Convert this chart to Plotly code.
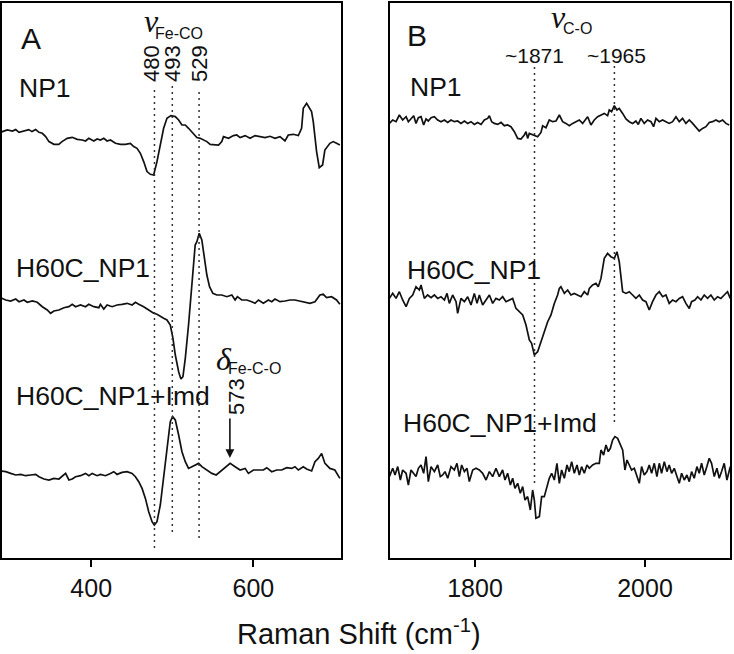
import plotly.graph_objects as go

# ---------------- DATA ----------------
# Panel A (low-frequency region), Raman shift in cm-1, intensities relative to each trace baseline
a_np1_x = [288, 296.6, 302.8, 306.9, 311, 317, 323, 327, 331.5, 335.6, 339.7, 343.8, 347.9, 354, 360, 364, 370.4, 376.6, 382.7, 388.9, 393, 397, 403.2, 407.3, 411.4, 415.5, 419.6, 423.7, 429.9, 436, 442.2, 448.3, 452.4, 456.5, 460.6, 464.7, 468.8, 472.9, 477, 481.1, 485.2, 489.3, 493.4, 498.3, 503.7, 507.8, 511.9, 516, 520, 526.2, 530.3, 534.4, 538.5, 542.6, 546.7, 552.9, 557, 561, 563.1, 569.3, 575.4, 579.5, 583.6, 589.8, 595.9, 602, 608.2, 614.4, 620.5, 626.6, 632.8, 638.9, 643, 649.2, 655.4, 659.4, 661.5, 665.6, 671.7, 673.8, 677.9, 681.2, 685.3, 688.1, 694.3, 698.4, 702.5, 706.6]
a_np1_y = [6, 8.3, 7.3, 8.7, 6, 7.3, 8.7, 6.7, 8.7, 6, 5, 1.7, -3.3, -6, -6, -3.3, 0, 1, -1, -1.7, -2.7, 0, -2.7, -0.7, -1.7, 0, -2.7, -1.7, -5, -6, -6, -5, -8.3, -10, -15, -23.3, -33.3, -36, -36.7, -23.3, -6.7, 10, 20, 22.7, 21.7, 18.3, 13.3, 13.3, 10, 5, 0.7, 0, -1.7, -3.3, -6, -6, -6.7, -3.3, 1.7, 0, 2.7, 3.3, 0.7, 2.7, 0, 2.7, 1.7, 0.7, 2, 0, 1.7, -2.7, 3.3, 4, 2.7, 10, 30, 35, 26.7, 16.7, -13.3, -29.3, -26.7, -11.7, -5, -3.3, -5, -6.7]

a_h60c_x = [288, 294.6, 300.7, 306.9, 311, 317.1, 321.2, 327.4, 333.5, 339.7, 345.8, 349.9, 354, 360.2, 366.3, 372.5, 376.6, 380.7, 386.8, 393, 397, 403.2, 409.4, 411.4, 415.5, 419.6, 425.8, 431.9, 438, 444.2, 450.4, 454.5, 458.6, 464.7, 470.9, 477, 481.1, 485.2, 489.3, 493.4, 497.5, 500.8, 503.7, 507.8, 510.6, 513.1, 516, 520, 524.2, 528.2, 530.3, 533.2, 536.4, 539.3, 542.6, 545.9, 550, 554.9, 561, 567.2, 573.4, 577.4, 580.3, 585.6, 591.8, 597.9, 602, 606.2, 612.3, 618.5, 622.6, 626.6, 632.8, 639, 645.1, 651.2, 657.4, 663.6, 669.7, 675.9, 682, 686.1, 690.2, 696.4, 702.5, 706.6]
a_h60c_y = [2.3, 0, -1, 1, -1.7, 0, -2.3, -1, -2.3, -6.7, -10, -13.3, -11, -10, -7.7, -6.7, -4.3, -6.7, -5, -6.7, -4.3, -6.7, -7.7, -4.3, -9, -5, -6.7, -5, -4.3, -3.3, -5, -2.3, -4.3, -6.7, -10, -13.3, -14.3, -16.7, -18.3, -20, -25, -38.3, -55, -71.7, -79, -76.7, -58.3, -25, 15, 55, 58.3, 66.7, 60, 45, 25, 13.3, 6.7, 5, 5, 3.3, 5, 0, 3.3, 0, 0, -1.7, -3.3, 0, -3.3, 0, -1.7, 1, -1.7, -1, 0, 0, -1, -1.7, -3.3, -1.7, 5, 5.7, 2.3, 3.3, 0, -4.3]

a_imd_x = [288, 294.6, 300.7, 306.9, 313, 319.2, 325.3, 331.5, 335.6, 341.7, 347.9, 354, 360.2, 364.3, 368.4, 372.5, 376.6, 380.7, 386.8, 393, 397.1, 401.2, 407.3, 411.4, 417.6, 423.7, 427.8, 431.9, 438, 444.2, 450.4, 454.5, 458.6, 462.7, 466.8, 470.9, 475, 477.8, 481.1, 485.2, 489.3, 493.4, 497.5, 500.4, 503.7, 507.8, 511.9, 516, 520, 524.2, 528.2, 532.4, 536.4, 542.6, 548.8, 554.1, 559, 565.2, 571.3, 577.4, 583.6, 589.8, 593.8, 600, 606.2, 612.3, 616.4, 622.6, 628.7, 634.9, 641, 647.2, 651.2, 655.4, 661.5, 665.6, 671.8, 675.9, 680, 684.1, 688.2, 694.3, 700.4, 706.6]
a_imd_y = [0.7, 0, -1.7, -3.3, -2.7, -4, -3.3, -2.7, -5, -7.3, -8.3, -6.7, -7.3, -4, -1.7, -8.3, -7.3, -5, -4, -1.7, -4, -1.7, -4, -2.7, -4, -1.7, 0, -2.7, -0.7, 0, -1.7, -5, -10, -16.7, -26.7, -40, -50, -53.3, -50, -33.3, -6.7, 23.3, 50, 55, 51.7, 36.7, 20, 10, 3.3, 5, 6.7, 8.3, 5, 1.7, -1.7, -3.3, 0, 3.3, 8.3, 5, 1.7, 3.3, -1.7, 1.7, 1.7, 1.7, 4, 0, 1.7, 1.7, 4, 3.3, 5, 1.7, 5, 2.7, 0.7, 10, 13.3, 18.3, 8.3, 3.3, 1.7, -6.7]

# Panel B (C-O stretch region)
b_np1_x = [1699.3, 1703.2, 1707.1, 1711, 1714.9, 1718.9, 1721.6, 1724.7, 1727.9, 1730.6, 1733.4, 1736.5, 1739.6, 1742.4, 1745.1, 1748.3, 1752.2, 1756.1, 1760, 1764, 1767.9, 1771.8, 1775.7, 1779.6, 1783.5, 1787.5, 1791.4, 1795.3, 1799.2, 1803.1, 1807.1, 1811, 1814.9, 1816.9, 1819.6, 1822.7, 1826.7, 1830.6, 1834.5, 1838.4, 1842.3, 1846.3, 1850.2, 1854.1, 1858, 1860, 1861.9, 1863.9, 1866.6, 1869.8, 1873.7, 1877.6, 1879.6, 1883.5, 1887.4, 1891.3, 1895.3, 1899.2, 1903.1, 1907, 1910.9, 1914.9, 1918.8, 1922.7, 1926.6, 1930.5, 1932.5, 1936.4, 1940.3, 1944.3, 1948.2, 1952.1, 1956, 1958, 1960.7, 1963.9, 1967, 1969.7, 1973.7, 1977.6, 1981.5, 1985.4, 1989.3, 1992.1, 1995.2, 1999.1, 2003.1, 2007, 2010.1, 2012.9, 2016.8, 2020.7, 2024.6, 2028.5, 2032.5, 2036.4, 2040.3, 2044.2, 2048.1, 2052.1, 2056, 2059.9, 2063.8, 2067.7, 2071.7, 2075.6, 2079.5, 2083.4, 2087.3, 2091.3, 2095.2, 2099.1]
b_np1_y = [-1.7, 1.7, 0, 6.7, 1.7, 5, 0, 3.3, 6, -1.7, 4, 5, -3.3, 2.7, 0.7, 4, 5, 1.7, 0, 1.7, -0.7, 1.7, 0, 0.7, -1.7, 0.7, -1.7, 0, -2.7, -0.7, -2.7, 1.7, 3.3, 6, 0, -1.7, -2.7, -0.7, -4, -3.3, -5, -10, -16.7, -17.3, -13.3, -10, -16.7, -11.7, -12.7, -14, -15, -10.7, -4, -6, 1.7, 0, 0.7, 6.7, 0, -1.7, -4, -1.7, 0, 1.7, -1.7, 3.3, 5, -3.3, 1.7, 5, 6.7, 8.3, 6, 11.7, 10, 16, 11.7, 13.3, 8.3, 2.7, 0, -1.7, 0.7, -2.7, 3.3, -1.7, 1.7, 0, -5, 3.3, 0, 1.7, 0, -1.7, 0, 5, 0, 3.3, -1.7, 1.7, -1.7, -5, -9.3, -6.7, -5, -0.7, 0, 1.7, 0, 1.7, -1.7, -3.3]

b_h60c_x = [1699.3, 1703.2, 1707.1, 1711, 1714.9, 1718.9, 1722.8, 1726.7, 1730.6, 1734.5, 1736.5, 1740.4, 1744.3, 1748.3, 1752.2, 1756.1, 1760, 1764, 1767.1, 1769.8, 1773.7, 1777.7, 1779.6, 1783.5, 1787.5, 1791.4, 1795.3, 1799.2, 1802.4, 1805.1, 1809, 1813, 1816.9, 1820.8, 1824.7, 1828.6, 1832.5, 1836.5, 1840.4, 1844.3, 1848.2, 1852.1, 1856.1, 1860, 1863.9, 1866.6, 1869.8, 1873.7, 1877.6, 1881.5, 1885.5, 1889.4, 1893.3, 1897.2, 1899.2, 1901.1, 1905.1, 1909, 1912.9, 1916.8, 1920.7, 1924.7, 1928.6, 1932.5, 1934.5, 1938.4, 1942.3, 1945, 1948.2, 1952.1, 1956, 1959.9, 1963.9, 1967, 1969.7, 1973.7, 1977.6, 1981.5, 1985.4, 1989.3, 1993.3, 1997.2, 2001.1, 2005, 2008.9, 2012.9, 2016.8, 2020.7, 2024.6, 2028.5, 2032.5, 2036.4, 2040.3, 2044.2, 2048.1, 2052.1, 2054.8, 2058.7, 2061.9, 2065.8, 2069.7, 2073.6, 2077.5, 2081.5, 2085.4, 2089.3, 2093.2, 2097.1, 2100.3]
b_h60c_y = [-1.7, 3.3, -1.7, 5, -3.3, -10, -1.7, 1.7, 10, 6.7, 11.7, -1.7, 1.7, -1, 1.7, -1.7, 0, -3.3, 3.3, -6.7, 1.7, -5, -16.7, -1.7, -5, 0, -8.3, 3.3, -6.7, 1.7, -8.3, -3.3, 1.7, -6.7, -1.7, -3.3, 0, -5, -3.3, -1.7, -11.7, -15, -18.3, -28.3, -43.3, -46.7, -58.3, -55, -45, -33.3, -25, -18.3, -6.7, 1.7, 8.3, 10, 3.3, 6.7, 1.7, 3.3, 1.7, 0, 5, 1.7, 8.3, 11.7, 13.3, 10, 18.3, 38.3, 43.3, 40, 38.3, 45, 35, 5, 3.3, 5, 1.7, -1.7, 1.7, -3.3, -5, -13.3, -5, 1.7, 5, 0, 1.7, -6.7, -3.3, -5, -1.7, 0, -6.7, -11.7, -5, -3.3, 0, -3.3, 1.7, -1.7, 1.7, -3.3, 0, -1.7, 1.7, 5, -1.7]

b_imd_x = [1699.3, 1703.2, 1705.9, 1709.1, 1712.2, 1714.9, 1718.9, 1721.6, 1724.7, 1727.9, 1730.6, 1733.4, 1736.5, 1739.6, 1742.4, 1745.1, 1748.3, 1752.2, 1756.1, 1759.2, 1762, 1764.7, 1767.9, 1771.8, 1775.7, 1778.8, 1781.6, 1784.3, 1787.5, 1790.6, 1793.3, 1797.3, 1801.2, 1805.1, 1809, 1813, 1816.9, 1820.8, 1824.7, 1828.6, 1832.5, 1835.3, 1838.4, 1841.6, 1844.3, 1847, 1850.2, 1853.3, 1856.1, 1858.8, 1861.9, 1865.1, 1867.8, 1869.8, 1871.7, 1875.7, 1878.4, 1881.5, 1884.7, 1887.4, 1890.2, 1893.3, 1896.4, 1899.2, 1901.9, 1905.1, 1908.2, 1910.9, 1913.7, 1916.8, 1920, 1922.7, 1925.4, 1928.6, 1931.7, 1934.5, 1938.4, 1942.3, 1946.2, 1948.2, 1951.3, 1954.1, 1956.8, 1959.2, 1961.9, 1964.6, 1967.8, 1970.9, 1973.7, 1976.4, 1978.8, 1981.5, 1984.2, 1987.4, 1990.5, 1993.3, 1996, 1999.1, 2002.3, 2005, 2007.8, 2010.9, 2014, 2016.8, 2019.5, 2022.7, 2025.8, 2028.5, 2031.3, 2034.4, 2037.6, 2040.3, 2043.1, 2046.2, 2049.3, 2052.1, 2054.8, 2057.9, 2061.1, 2063.8, 2066.6, 2069.7, 2072.8, 2075.6, 2078.3, 2081.5, 2084.6, 2087.3, 2090.1, 2093.2, 2096.4, 2100.3]
b_imd_y = [-3.3, 5, -1.7, 6.7, -6.7, 3.3, 0, -11.7, 3.3, 0, -3.3, 5, 8.3, 0, 16.7, -8.3, 6.7, 1.7, 8.3, -3.3, -1.7, 1.7, -5, 6.7, 3.3, 10, -3.3, 8.3, 1.7, 5, -8.3, 3.3, 5, 3.3, 0, -6.7, 1.7, -3.3, 5, -3.3, 3.3, -6.7, 0, -11.7, -5, -15, -10, -20, -13.3, -26.7, -23.3, -36.7, -16.7, -26.7, -45, -43.3, -23.3, -23.3, -13.3, -5, 0, -6.7, 10, -10, 3.3, -5, 8.3, 1.7, 11.7, 0, 8.3, -1.7, 6.7, 0, 8.3, 5, 8.3, 10, 10, 23.3, 18.3, 28.3, 21.7, 25, 33.3, 36.7, 35, 28.3, 23.3, 3.3, 13.3, 8.3, 3.3, 5, -3.3, -10, 6.7, -1.7, 1.7, 8.3, 0, 10, -3.3, 10, 0, 11.7, 1.7, 8.3, 0, 5, -3.3, -10, 0, -6.7, -1.7, -8.3, 1.7, -5, 6.7, 0, 10, -1.7, 6.7, 15, 10, -3.3, 5, -5, 1.7, 10, -6.7, 6.7]

sample_names = ["NP1", "H60C_NP1", "H60C_NP1+Imd"]
a_offsets = [419.7, 258, 86.3]      # vertical stacking offsets, panel A
b_offsets = [436.3, 261.3, 84.7]    # vertical stacking offsets, panel B

a_band_pos = [478, 500, 533]          # dotted marker positions (cm-1), panel A
a_band_labels = ["480", "493", "529"]
b_band_pos = [1870, 1964]
b_band_labels = ["~1871", "~1965"]
delta_pos = 571
delta_label = "573"

a_ticks = [400, 600]
b_ticks = [1800, 2000]
a_range = [290, 708]
b_range = [1700, 2100]

# ---------------- FIGURE ----------------
W, H = 734, 654
FONT = "Liberation Sans, Arial, Helvetica, sans-serif"
SERIF = "Liberation Serif, Times New Roman, serif"
INK = "#111111"

def PX(x):
    return x / W

def PY(y):
    return 1 - y / H

fig = go.Figure()

a_series = [(a_np1_x, a_np1_y), (a_h60c_x, a_h60c_y), (a_imd_x, a_imd_y)]
b_series = [(b_np1_x, b_np1_y), (b_h60c_x, b_h60c_y), (b_imd_x, b_imd_y)]

for (xs, ys), off, name in zip(a_series, a_offsets, sample_names):
    fig.add_trace(go.Scatter(x=xs, y=[v + off for v in ys], mode="lines", name=name,
                             line=dict(color=INK, width=1.7), xaxis="x", yaxis="y"))
for (xs, ys), off, name in zip(b_series, b_offsets, sample_names):
    fig.add_trace(go.Scatter(x=xs, y=[v + off for v in ys], mode="lines", name=name,
                             line=dict(color=INK, width=1.7), xaxis="x2", yaxis="y2"))

# dotted band markers
dot = dict(color="#333333", width=1.5, dash="2px,4px")
a_line_spans = [(10, 470), (26, 473), (20, 468)]
for pos, (y0, y1) in zip(a_band_pos, a_line_spans):
    fig.add_shape(type="line", xref="x", yref="y", x0=pos, x1=pos, y0=y0, y1=y1, line=dot)
b_line_spans = [(75, 493), (136, 493)]
for pos, (y0, y1) in zip(b_band_pos, b_line_spans):
    fig.add_shape(type="line", xref="x2", yref="y2", x0=pos, x1=pos, y0=y0, y1=y1, line=dot)

ann = []

def text(px, py, s, size, xanchor="center", family=FONT, angle=0):
    ann.append(dict(x=PX(px), y=PY(py), xref="paper", yref="paper", text=s, showarrow=False,
                    xanchor=xanchor, yanchor="middle", textangle=angle,
                    font=dict(family=family, size=size, color=INK)))

# panel letters
text(31, 39, "A", 30)
text(417, 35, "B", 30)

# sample labels
a_label_pos = [(17, 88), (14, 268), (14, 396)]
b_label_pos = [(408, 87), (405, 270), (401, 423)]
for (px, py), s in zip(a_label_pos, sample_names):
    text(px, py, s, 26.5, xanchor="left")
for (px, py), s in zip(b_label_pos, sample_names):
    text(px, py, s, 26.5, xanchor="left")

# greek band assignments
text(151, 21, "<i>ν</i>", 32, family=SERIF)
text(179, 33, "Fe-CO", 16)
text(224, 359, "<i>δ</i>", 32, family=SERIF)
text(254, 369, "Fe-C-O", 16)
text(558, 17, "<i>ν</i>", 32, family=SERIF)
text(577, 28, "C-O", 16)

# rotated band labels (panel A)
for px, s in zip([151, 172, 199], a_band_labels):
    text(px, 64, s, 22, angle=-90)
text(236, 396, delta_label, 22, angle=-90)

# vertical arrow pointing down to the weak delta band
ann.append(dict(x=delta_pos, y=558 - 458, xref="x", yref="y", ax=0, ay=-41,
                showarrow=True, arrowhead=2, arrowsize=1.1, arrowwidth=1.6,
                arrowcolor=INK, text=""))

# band labels panel B
for px, s in zip([534, 616], b_band_labels):
    text(px, 56, s, 21)

# common x-axis title
text(359, 632, "Raman Shift (cm<sup>-1</sup>)", 29)

axis_common = dict(showline=True, linecolor="black", linewidth=1.5, mirror=True,
                   showgrid=False, zeroline=False)
ydom = [(H - 558) / H, (H - 3) / H]

fig.update_layout(
    width=W, height=H,
    margin=dict(l=0, r=0, t=0, b=0),
    paper_bgcolor="white", plot_bgcolor="white",
    showlegend=False,
    xaxis=dict(domain=[PX(2), PX(341)], range=a_range, tickvals=a_ticks,
               ticktext=[str(t) for t in a_ticks], ticks="outside", ticklen=7, tickwidth=1.5,
               tickcolor="black", tickfont=dict(family=FONT, size=25, color=INK),
               anchor="y", **axis_common),
    yaxis=dict(domain=ydom, range=[0, 555], showticklabels=False, ticks="",
               anchor="x", **axis_common),
    xaxis2=dict(domain=[PX(390), PX(730)], range=b_range, tickvals=b_ticks,
                ticktext=[str(t) for t in b_ticks], ticks="outside", ticklen=7, tickwidth=1.5,
                tickcolor="black", tickfont=dict(family=FONT, size=25, color=INK),
                anchor="y2", **axis_common),
    yaxis2=dict(domain=ydom, range=[0, 555], showticklabels=False, ticks="",
                anchor="x2", **axis_common),
    annotations=ann,
)

fig.write_html("out.html", config={"displayModeBar": False},
               post_script="document.body.style.margin='0px';document.body.style.overflow='hidden';")
